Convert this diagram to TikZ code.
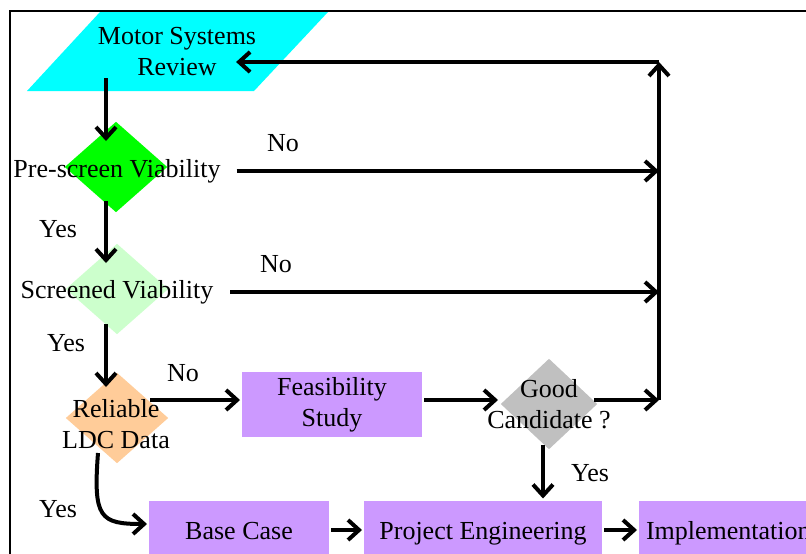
\documentclass[tikz,border=0pt]{standalone}
\usepackage{fontspec}
\setmainfont{Liberation Serif}
\usetikzlibrary{arrows.meta,shapes.geometric,calc}
\definecolor{mscyan}{RGB}{0,255,255}
\definecolor{msgreen}{RGB}{0,255,0}
\definecolor{mslight}{RGB}{204,255,204}
\definecolor{msorange}{RGB}{255,204,153}
\definecolor{msgrey}{RGB}{192,192,192}
\definecolor{mspurple}{RGB}{204,153,255}

\begin{document}
\begin{tikzpicture}[x=1pt,y=-1pt,line width=4pt,>={Straight Barb[length=11pt,width=20pt]},
  txt/.style={font=\fontsize{26}{31}\selectfont,align=center,inner sep=0pt},
  dia/.style={diamond,inner sep=0pt,minimum width=104pt,minimum height=92pt},
  box/.style={txt,fill=mspurple,minimum height=65pt},
  onebox/.style={box,text height=18pt,text depth=6pt}]
  \useasboundingbox (0,0) rectangle (806,554);
  \clip (0,0) rectangle (806,554);
  \draw[line width=2pt] (10,570) -- (10,11) -- (820,11);

  \fill[mscyan] (100,12) -- (328,12) -- (254,91) -- (27,91) -- cycle;
  \node[txt] (review) at (177,52) {Motor Systems\\Review};

  \node[dia,fill=msgreen] (pre) at (116,167) {};
  \node[txt] (pretxt) at (117,171) {Pre-screen Viability};
  \node[dia,fill=mslight] (scr) at (117,289) {};
  \node[txt] (scrtxt) at (117,292) {Screened Viability};
  \node[dia,fill=msorange] (ldc) at (117,418) {};
  \node[txt] (ldctxt) at (116,424) {Reliable\\LDC Data};

  \node[box,minimum width=180pt] (feas) at (332,404.5) {Feasibility\\Study};
  \node[dia,fill=msgrey,minimum width=98pt] (good) at (549,404) {};
  \node[txt] (goodtxt) at (549,404) {Good\\Candidate ?};

  \node[onebox,minimum width=180pt] (base) at (239,533) {Base Case};
  \node[onebox,minimum width=238pt] (proj) at (483,533) {Project Engineering};
  \node[onebox,anchor=west,inner xsep=7pt] (impl) at (637,533) {Implementation};

  \node[txt] (no1) at (283,143) {No};
  \node[txt] (no2) at (276,264) {No};
  \node[txt] (no3) at (183,373) {No};
  \node[txt] (yes1) at (58,229) {Yes};
  \node[txt] (yes2) at (66,343) {Yes};
  \node[txt] (yes3) at (58,509) {Yes};
  \node[txt] (yes4) at (590,473) {Yes};

  \coordinate (spine) at (106,0);
  \coordinate (ret) at (659,62);
  \coordinate (ldcout) at (150,400);
  \coordinate (gdrop) at ($(good.south)+(-6,-7)$);

  \draw[->] (spine |- review.south) -- ($(spine |- pre.north)+(0,22)$);
  \draw[->] ($(spine |- pre.south)+(0,-14)$) -- ($(spine |- scr.north)+(0,22)$);
  \draw[->] ($(spine |- scr.south)+(0,-13)$) -- ($(spine |- ldc.north)+(0,17)$);

  \draw[->] ([xshift=14pt]pretxt.east) -- (pretxt.east -| ret);
  \draw[->] ([xshift=15pt]scrtxt.east) -- (scrtxt.east -| ret);
  \draw[->] (ldcout) -- (ldcout -| feas.west);
  \draw[->] (ldcout -| feas.east) -- (ldcout -| good.west);
  \draw[->] ($(ldcout -| good.east)+(-6,0)$) -- (ldcout -| ret);
  \draw[->] (ldcout -| ret) -- (ret);
  \draw[->] (ret) -- ($(ret -| review.east)+(-22,0)$);

  \draw[->] (gdrop) -- (gdrop |- proj.north);
  \draw[->] ($(ldc.south)+(-19,-13)$) .. controls (93,518) and (100,524) .. ($(base.west)+(0,-9)$);
  \draw[->] ($(base.east)+(0,-3)$) -- ($(proj.west)+(0,-3)$);
  \draw[->] ($(proj.east)+(0,-3)$) -- ($(impl.west)+(0,-3)$);
\end{tikzpicture}
\end{document}
